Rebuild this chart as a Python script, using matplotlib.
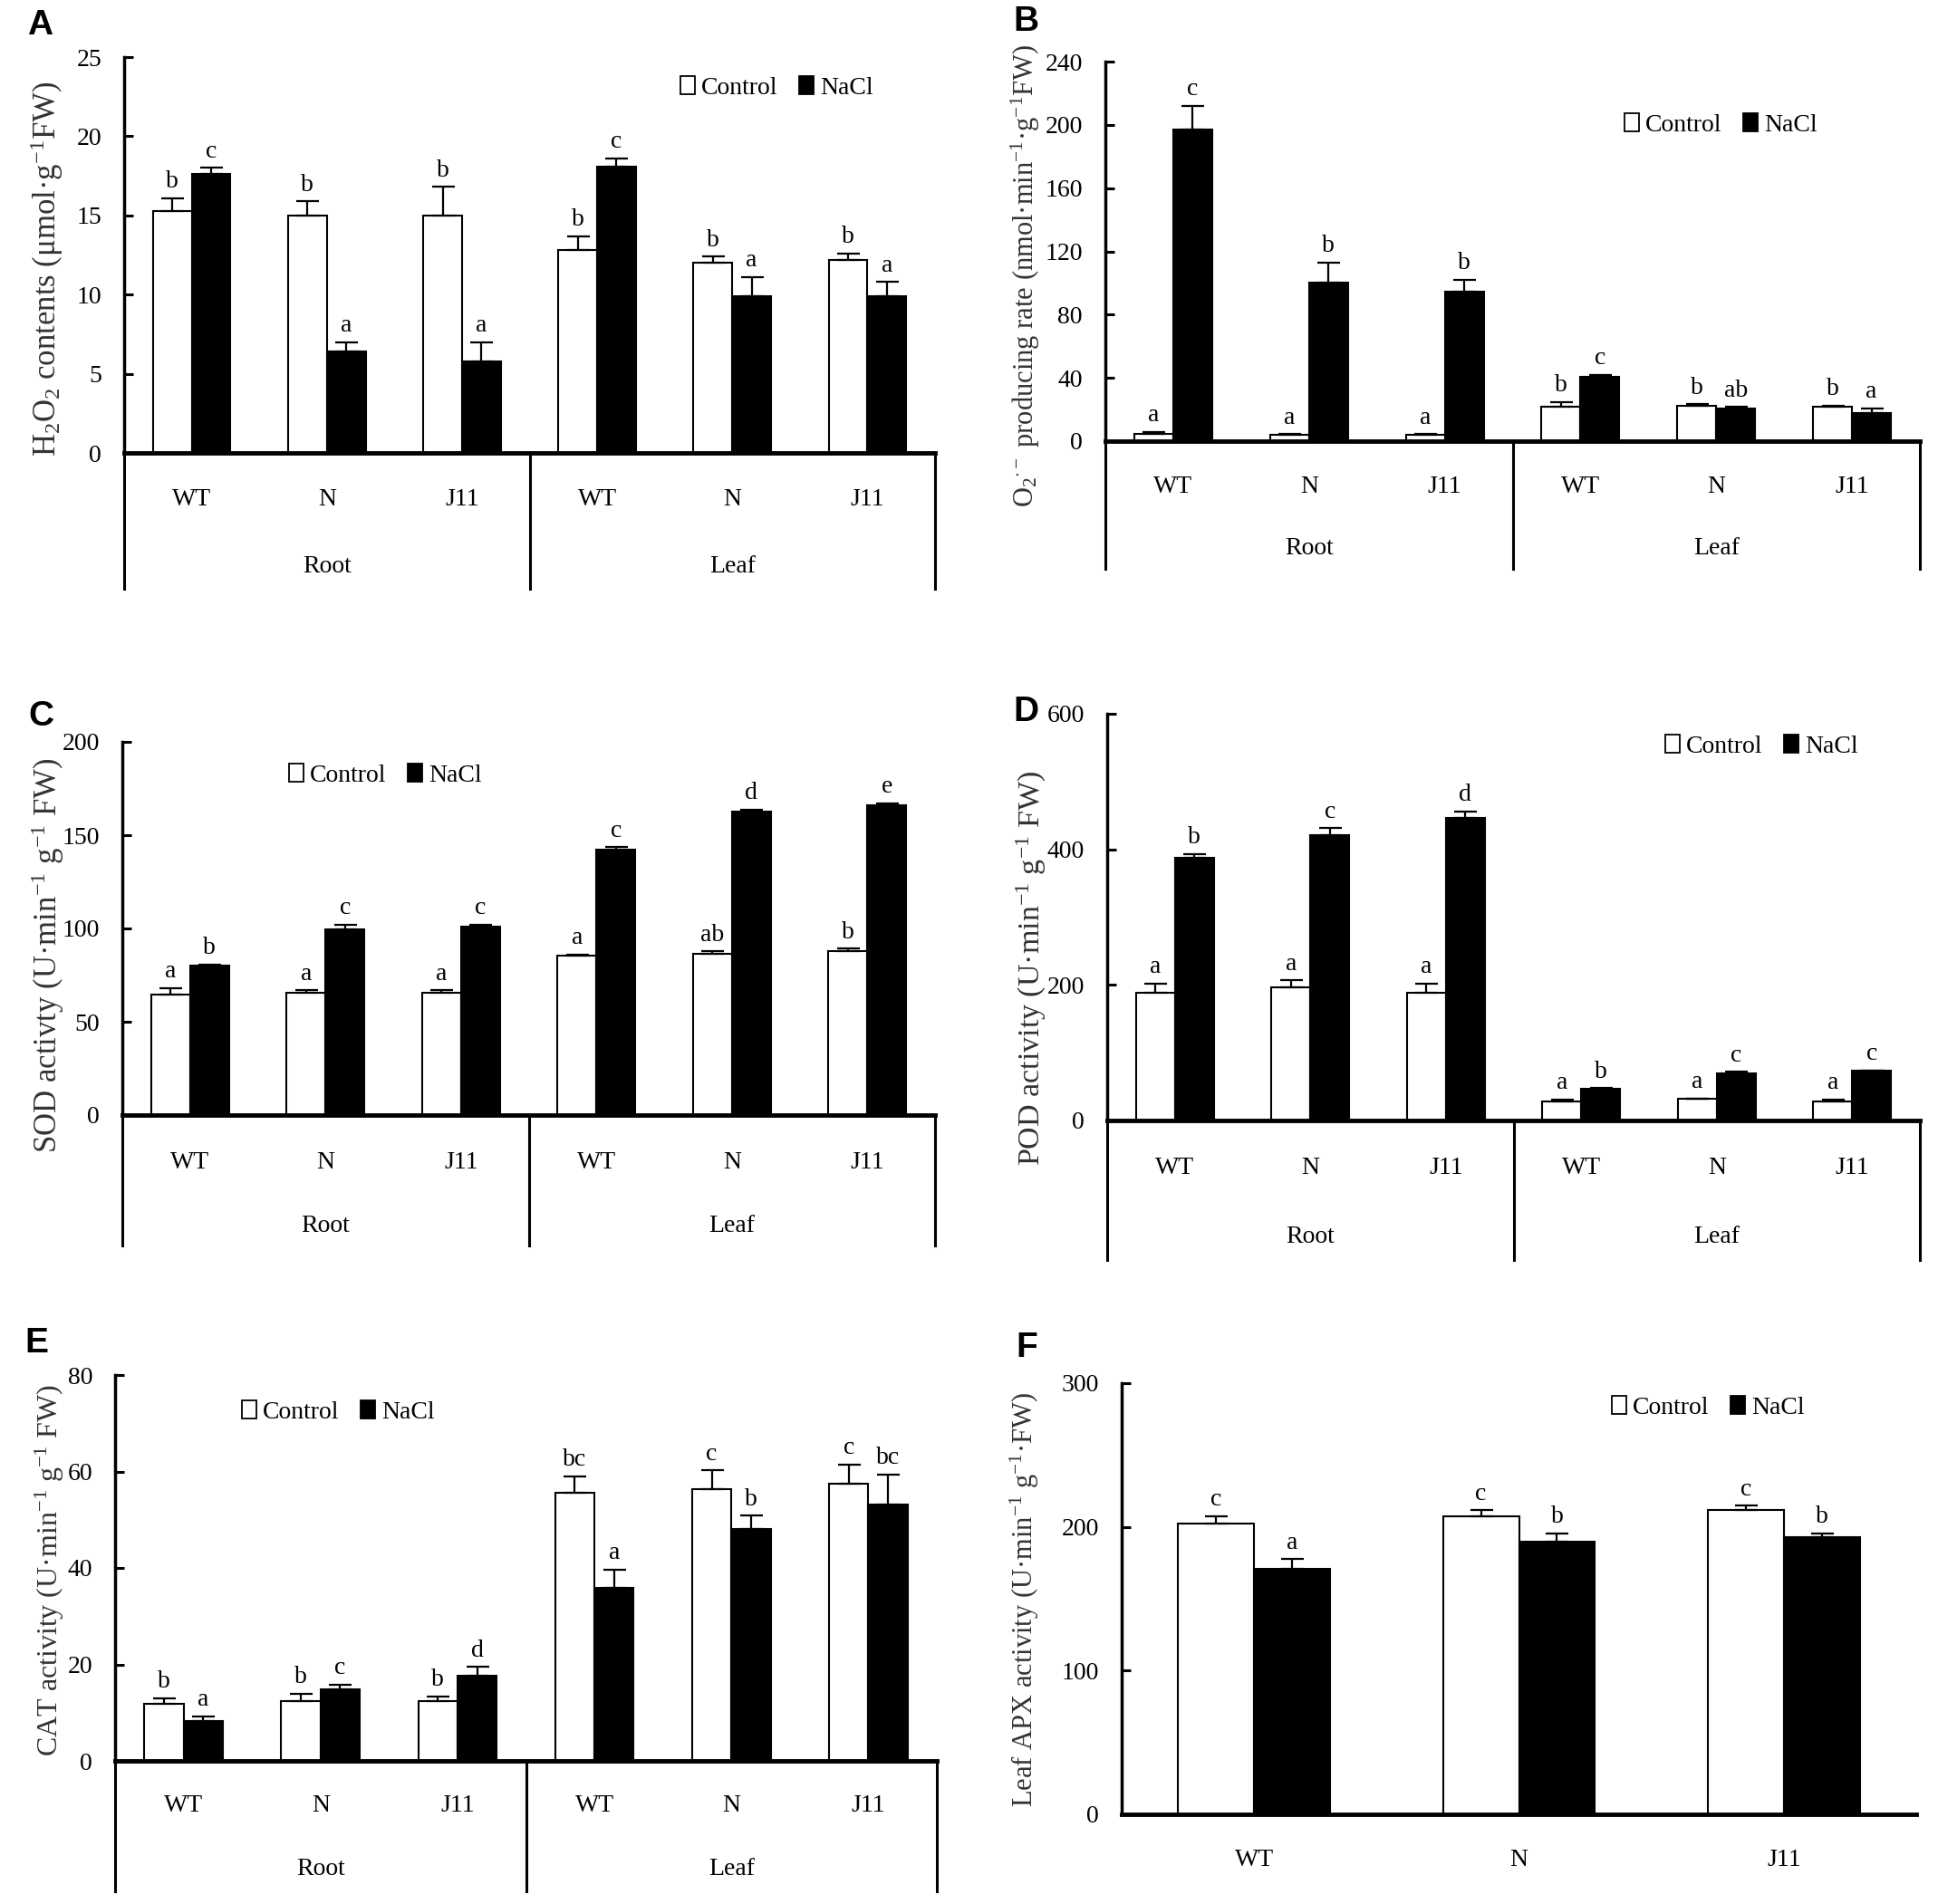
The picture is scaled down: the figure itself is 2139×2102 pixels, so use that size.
import numpy as np
import matplotlib
matplotlib.use("Agg")
import matplotlib.pyplot as plt
from matplotlib.patches import Patch
from matplotlib.transforms import blended_transform_factory

plt.rcParams['font.family'] = ['Liberation Serif', 'DejaVu Serif']
plt.rcParams['mathtext.fontset'] = 'custom'
plt.rcParams['mathtext.rm'] = 'Liberation Serif'
plt.rcParams['mathtext.it'] = 'Liberation Serif:italic'
plt.rcParams['mathtext.bf'] = 'Liberation Serif:bold'

# categories
lines = ["WT", "N", "J11"]
tissues = ["Root", "Leaf"]

# A: H2O2 contents
h2o2_ctrl = [15.3, 15.0, 15.0, 12.8, 12.0, 12.2]
h2o2_ctrl_err = [0.8, 0.9, 1.8, 0.9, 0.4, 0.4]
h2o2_nacl = [17.6, 6.4, 5.8, 18.1, 9.9, 9.9]
h2o2_nacl_err = [0.4, 0.6, 1.2, 0.5, 1.2, 0.9]
h2o2_ctrl_let = ["b", "b", "b", "b", "b", "b"]
h2o2_nacl_let = ["c", "a", "a", "c", "a", "a"]

# B: O2- producing rate
o2_ctrl = [4.6, 4.0, 4.0, 21.7, 22.5, 22.0]
o2_ctrl_err = [1.1, 0.5, 0.5, 2.9, 0.8, 0.5]
o2_nacl = [197, 100, 94.5, 40.7, 20.6, 17.8]
o2_nacl_err = [15, 13, 7.5, 1.2, 1.1, 2.8]
o2_ctrl_let = ["a", "a", "a", "b", "b", "b"]
o2_nacl_let = ["c", "b", "b", "c", "ab", "a"]

# C: SOD activity
sod_ctrl = [64.5, 65.5, 65.5, 85.5, 86.6, 88.1]
sod_ctrl_err = [3.5, 1.3, 1.3, 0.5, 1.2, 1.1]
sod_nacl = [80, 99.5, 101, 142, 162.6, 166]
sod_nacl_err = [0.8, 2.5, 1.0, 1.5, 1.0, 1.0]
sod_ctrl_let = ["a", "a", "a", "a", "ab", "b"]
sod_nacl_let = ["b", "c", "c", "c", "d", "e"]

# D: POD activity
pod_ctrl = [188, 196.5, 188, 28, 32, 28]
pod_ctrl_err = [14, 10, 14, 3, 0.5, 3]
pod_nacl = [387, 421, 446, 47, 69, 73]
pod_nacl_err = [6, 10, 10, 0.5, 3, 0.5]
pod_ctrl_let = ["a", "a", "a", "a", "a", "a"]
pod_nacl_let = ["b", "c", "d", "b", "c", "c"]

# E: CAT activity
cat_ctrl = [11.8, 12.4, 12.4, 55.6, 56.4, 57.5]
cat_ctrl_err = [1.2, 1.5, 1.0, 3.4, 3.8, 3.9]
cat_nacl = [8.2, 14.8, 17.7, 35.9, 48.0, 53.2]
cat_nacl_err = [1.0, 1.0, 1.8, 3.8, 2.8, 6.2]
cat_ctrl_let = ["b", "b", "b", "bc", "c", "c"]
cat_nacl_let = ["a", "c", "d", "a", "b", "bc"]

# F: Leaf APX activity
apx_ctrl = [202.4, 207.2, 211.5]
apx_ctrl_err = [5.0, 4.5, 3.2]
apx_nacl = [170.8, 189.8, 193]
apx_nacl_err = [6.7, 5.6, 2.4]
apx_ctrl_let = ["c", "c", "c"]
apx_nacl_let = ["a", "b", "b"]

W, H = 2139, 2102
fig = plt.figure(figsize=(W / 100, H / 100), dpi=100)

barw = 0.287
lab_color = '#333333'


def add_ax(left, right, top, zero):
    return fig.add_axes([left / W, 1 - zero / H, (right - left) / W, (zero - top) / H])


def draw_panel(ax, ctrl, cerr, nacl, nerr, clet, nlet, ymax, ystep, ylabel,
               px, legend_xy, label_xy, box=None, ylab_size=22):
    left, right, top, zero = px
    n = len(ctrl)
    x = np.arange(n)
    zeros = np.zeros(n)
    ekw = dict(ecolor='black', elinewidth=1.6, capsize=9, capthick=1.6)
    ax.bar(x - barw / 2, ctrl, barw, color='white', edgecolor='black', lw=1.5,
           yerr=[zeros, cerr], error_kw=ekw, label='Control')
    ax.bar(x + barw / 2, nacl, barw, color='black', edgecolor='black', lw=1.5,
           yerr=[zeros, nerr], error_kw=ekw, label='NaCl')
    for i in range(n):
        ax.annotate(clet[i], (x[i] - barw / 2, ctrl[i] + cerr[i]), xytext=(0, 4),
                    textcoords='offset points', ha='center', va='bottom', fontsize=20)
        ax.annotate(nlet[i], (x[i] + barw / 2, nacl[i] + nerr[i]), xytext=(0, 4),
                    textcoords='offset points', ha='center', va='bottom', fontsize=20)
    ax.set_xlim(-0.5, n - 0.5)
    ax.set_ylim(0, ymax)
    ax.set_yticks(np.arange(0, ymax + 1, ystep))
    ax.set_xticks([])
    ax.spines['top'].set_visible(False)
    ax.spines['right'].set_visible(False)
    ax.spines['left'].set_linewidth(2.5)
    ax.spines['bottom'].set_linewidth(3.5)
    ax.tick_params(axis='y', direction='in', length=7, width=2.2, pad=18, labelsize=20)

    h = zero - top
    trans = blended_transform_factory(ax.transData, ax.transAxes)
    if box is not None:
        bottom, cat_y, grp_y = box
        yb = -(bottom - zero) / h
        for xa in [0, 0.5, 1]:
            ax.plot([xa, xa], [0, yb], transform=ax.transAxes, color='black',
                    lw=2.2, clip_on=False)
        for i in range(n):
            ax.text(x[i], -(cat_y - zero) / h, lines[i % 3], transform=trans,
                    ha='center', va='center', fontsize=20)
        for k, t in enumerate(tissues):
            ax.text(1 + 3 * k, -(grp_y - zero) / h, t, transform=trans,
                    ha='center', va='center', fontsize=20)
    else:
        cat_y = label_xy[2]
        for i in range(n):
            ax.text(x[i], -(cat_y - zero) / h, lines[i], transform=trans,
                    ha='center', va='center', fontsize=20)

    ax.set_ylabel(ylabel, fontsize=ylab_size, color=lab_color, va='center')
    ax.yaxis.set_label_coords((label_xy[0] - left) / (right - left),
                              (zero - label_xy[1]) / h)

    handles = [Patch(facecolor='white', edgecolor='black', lw=1.3),
               Patch(facecolor='black', edgecolor='black', lw=1.3)]
    lx, ly = legend_xy
    ax.legend(handles, ['Control', 'NaCl'], loc='center left',
              bbox_to_anchor=((lx - left) / (right - left), (zero - ly) / h),
              ncol=2, frameon=False, fontsize=20, handlelength=0.58,
              handleheight=0.75, handletextpad=0.25, columnspacing=0.85,
              borderaxespad=0, borderpad=0)


pA = (137, 1032, 63, 500)
axA = add_ax(*pA)
draw_panel(axA, h2o2_ctrl, h2o2_ctrl_err, h2o2_nacl, h2o2_nacl_err,
           h2o2_ctrl_let, h2o2_nacl_let, 25, 5,
           r"H$_2$O$_2$ contents (μmol·g$^{-1}$FW)", pA, (751, 97), (52, 297),
           box=(650, 551, 625), ylab_size=25)

pB = (1220, 2119, 68, 487)
axB = add_ax(*pB)
draw_panel(axB, o2_ctrl, o2_ctrl_err, o2_nacl, o2_nacl_err,
           o2_ctrl_let, o2_nacl_let, 240, 40,
           r"O$_2$$^{\cdot-}$ producing rate (nmol·min$^{-1}$·g$^{-1}$FW)", pB,
           (1793, 138), (1132, 305), box=(628, 537, 606), ylab_size=22)

pC = (135, 1032, 819, 1231)
axC = add_ax(*pC)
draw_panel(axC, sod_ctrl, sod_ctrl_err, sod_nacl, sod_nacl_err,
           sod_ctrl_let, sod_nacl_let, 200, 50,
           r"SOD activty (U·min$^{-1}$ g$^{-1}$ FW)", pC, (319, 856), (53, 1055),
           box=(1375, 1284, 1353), ylab_size=25)

pD = (1222, 2119, 788, 1237)
axD = add_ax(*pD)
draw_panel(axD, pod_ctrl, pod_ctrl_err, pod_nacl, pod_nacl_err,
           pod_ctrl_let, pod_nacl_let, 600, 200,
           r"POD activity (U·min$^{-1}$ g$^{-1}$ FW)", pD, (1838, 824), (1138, 1069),
           box=(1391, 1290, 1366), ylab_size=24.5)

pE = (127, 1034, 1518, 1944)
axE = add_ax(*pE)
draw_panel(axE, cat_ctrl, cat_ctrl_err, cat_nacl, cat_nacl_err,
           cat_ctrl_let, cat_nacl_let, 80, 20,
           r"CAT activity (U·min$^{-1}$ g$^{-1}$ FW)", pE, (267, 1559), (55, 1733),
           box=(2088, 1994, 2064), ylab_size=23)

pF = (1238, 2115, 1527, 2003)
axF = add_ax(*pF)
draw_panel(axF, apx_ctrl, apx_ctrl_err, apx_nacl, apx_nacl_err,
           apx_ctrl_let, apx_nacl_let, 300, 100,
           r"Leaf APX activity (U·min$^{-1}$ g$^{-1}$·FW)", pF, (1779, 1554),
           (1131, 1766, 2053), ylab_size=22)

# panel letters
for letter, (lx, ly) in zip("ABCDEF", [(30, 10), (1118, 6), (31, 773),
                                       (1118, 768), (27, 1465), (1121, 1470)]):
    fig.text(lx / W, 1 - ly / H, letter, fontsize=28, fontweight='bold',
             family='Liberation Sans', ha='left', va='top')

fig.savefig("out.png", dpi=100)
